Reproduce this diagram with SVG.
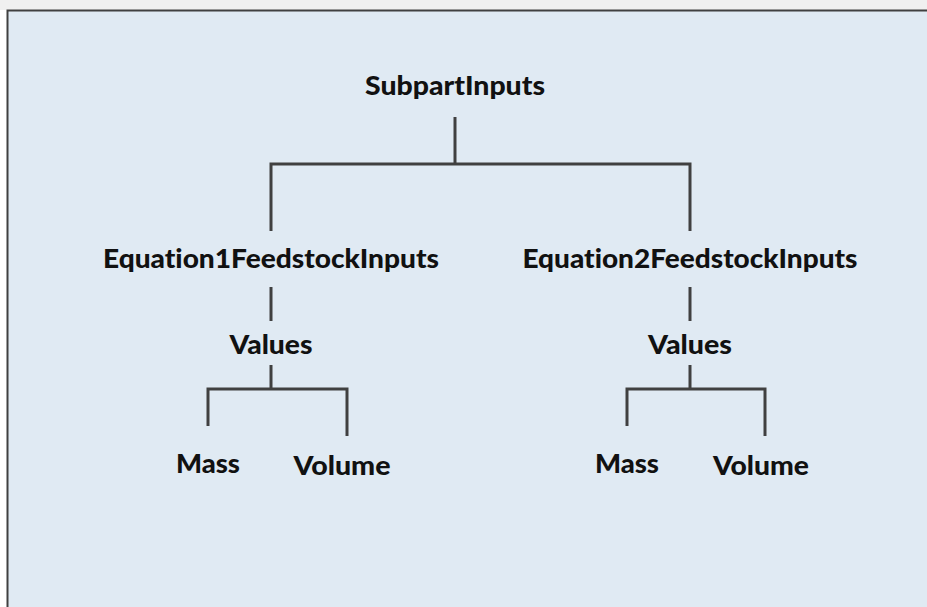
<svg xmlns="http://www.w3.org/2000/svg" width="927" height="607" viewBox="0 0 927 607">
<style>
.lbl{font-family:"Lato","Open Sans","Liberation Sans",sans-serif;font-weight:900;font-size:27px;fill:#111111;text-anchor:middle;font-variant-ligatures:none;font-feature-settings:"liga" 0}
.c{fill:none;stroke:#404040;stroke-width:3;stroke-linecap:butt;stroke-linejoin:miter}
</style>
<rect x="0" y="0" width="927" height="607" fill="#ffffff"/>
<rect x="0" y="0" width="927" height="10" fill="#f0f0f0"/>
<rect x="7" y="10" width="920" height="597" fill="#e0eaf3"/>
<path d="M7.5,607 V10.5 H927" fill="none" stroke="#404040" stroke-width="2"/>
<g id="connectors">
<path class="c" d="M455,117 V164"/>
<path class="c" d="M271,231 V164 H690 V231"/>
<path class="c" d="M271,287 V321"/>
<path class="c" d="M271,365 V389"/>
<path class="c" d="M208,426 V389 H347 V436"/>
<path class="c" d="M690,287 V321"/>
<path class="c" d="M690,365 V389"/>
<path class="c" d="M627,426 V389 H765 V436"/>
</g>
<g id="subpart"><text class="lbl" x="455" y="95" textLength="180" lengthAdjust="spacingAndGlyphs">SubpartInputs</text></g>
<g id="eq1"><text class="lbl" x="271" y="268" textLength="336" lengthAdjust="spacingAndGlyphs">Equation1FeedstockInputs</text></g>
<g id="values1"><text class="lbl" x="271" y="354" textLength="83" lengthAdjust="spacingAndGlyphs">Values</text></g>
<g id="mass1"><text class="lbl" x="208" y="473" textLength="64" lengthAdjust="spacingAndGlyphs">Mass</text></g>
<g id="volume1"><text class="lbl" x="342" y="475" textLength="97" lengthAdjust="spacingAndGlyphs">Volume</text></g>
<g id="eq2"><text class="lbl" x="690" y="268" textLength="335" lengthAdjust="spacingAndGlyphs">Equation2FeedstockInputs</text></g>
<g id="values2"><text class="lbl" x="690" y="354" textLength="84" lengthAdjust="spacingAndGlyphs">Values</text></g>
<g id="mass2"><text class="lbl" x="627" y="473" textLength="64" lengthAdjust="spacingAndGlyphs">Mass</text></g>
<g id="volume2"><text class="lbl" x="761" y="475" textLength="96" lengthAdjust="spacingAndGlyphs">Volume</text></g>
</svg>
